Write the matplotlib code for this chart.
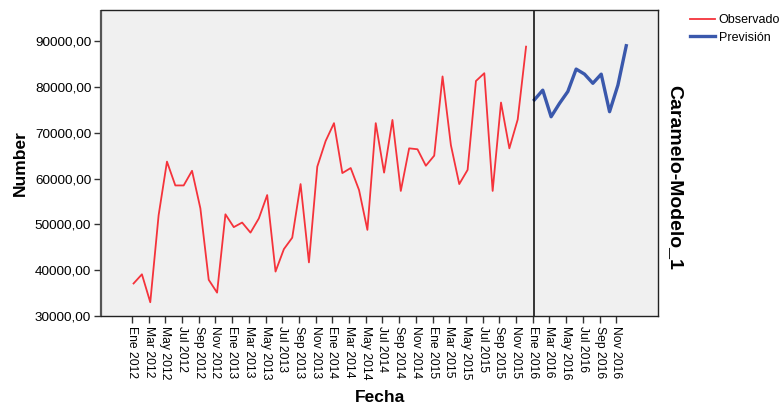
import matplotlib
matplotlib.use("Agg")
import matplotlib.pyplot as plt
import numpy as np

plt.rcParams['font.family'] = ['Liberation Sans', 'DejaVu Sans']

meses = ["Ene", "Feb", "Mar", "Abr", "May", "Jun", "Jul", "Ago", "Sep", "Oct", "Nov", "Dic"]
anios = [2012, 2013, 2014, 2015, 2016]

observado = [37100, 39100, 33000, 52000, 63700, 58500, 58500, 61700, 53500, 37900, 35100, 52200,
             49400, 50400, 48200, 51300, 56400, 39700, 44600, 47100, 58800, 41700, 62600, 68200,
             72100, 61200, 62300, 57500, 48800, 72100, 61300, 72800, 57300, 66600, 66400, 62800,
             65000, 82300, 67300, 58800, 61900, 81300, 83000, 57300, 76600, 66600, 72900, 88800]
prevision = [77200, 79300, 73500, 76400, 79000, 83900, 82800, 80800, 82800, 74600, 80400, 89000]

etiquetas = [f"{m} {a}" for a in anios for m in meses]
n_obs = len(observado)
x_obs = np.arange(n_obs) + 0.2
x_prev = np.arange(n_obs, n_obs + len(prevision)) + 0.2

fig = plt.figure(figsize=(7.81, 4.05), dpi=100)
ax = fig.add_axes([101/781, 1-316/405, (658-101)/781, (316-10)/405])
ax.set_facecolor('#F0F0F0')

l1, = ax.plot(x_obs, observado, color='#F5333B', lw=1.3, label='Observado')
l2, = ax.plot(x_prev, prevision, color='#3A58AC', lw=2.4, label='Previsión')
ax.axvline(n_obs + 0.2, color='black', lw=1.1)

ax.set_xlim(-3.7, 63.0)
ax.set_ylim(30000, 96800)
ax.set_yticks(np.arange(30000, 90001, 10000))
ax.set_yticklabels([f"{int(v)},00" for v in np.arange(30000, 90001, 10000)], fontsize=9.7)
tick_pos = np.arange(0, len(etiquetas), 2)[:30]
ax.set_xticks(tick_pos)
ax.set_xticklabels([etiquetas[i] for i in tick_pos], rotation=-90, fontsize=8.7, va='top', ha='center')
ax.tick_params(axis='both', direction='out', length=5, width=1, color='#333333', pad=2)

for s in ax.spines.values():
    s.set_color('#222222')
    s.set_linewidth(1.0)
ax.spines['left'].set_color('#555555')
ax.spines['left'].set_linewidth(1.6)
ax.spines['left'].set_capstyle('butt')

fig.text(20/781, 1-163/405, 'Number', rotation=90, fontsize=12.5, fontweight='bold', ha='center', va='center')
fig.text(380/781, 1-397/405, 'Fecha', fontsize=12.5, fontweight='bold', ha='center', va='center')
fig.text(675/781, 1-177/405, 'Caramelo-Modelo_1', rotation=-90, fontsize=14, fontweight='bold', ha='center', va='center')

fig.legend(handles=[l1, l2], loc='upper left', bbox_to_anchor=(685/781, 1-9/405), frameon=False,
           fontsize=9, handlelength=2.0, handletextpad=0.3, labelspacing=0.45, borderaxespad=0)

fig.savefig('out.png', dpi=100)
